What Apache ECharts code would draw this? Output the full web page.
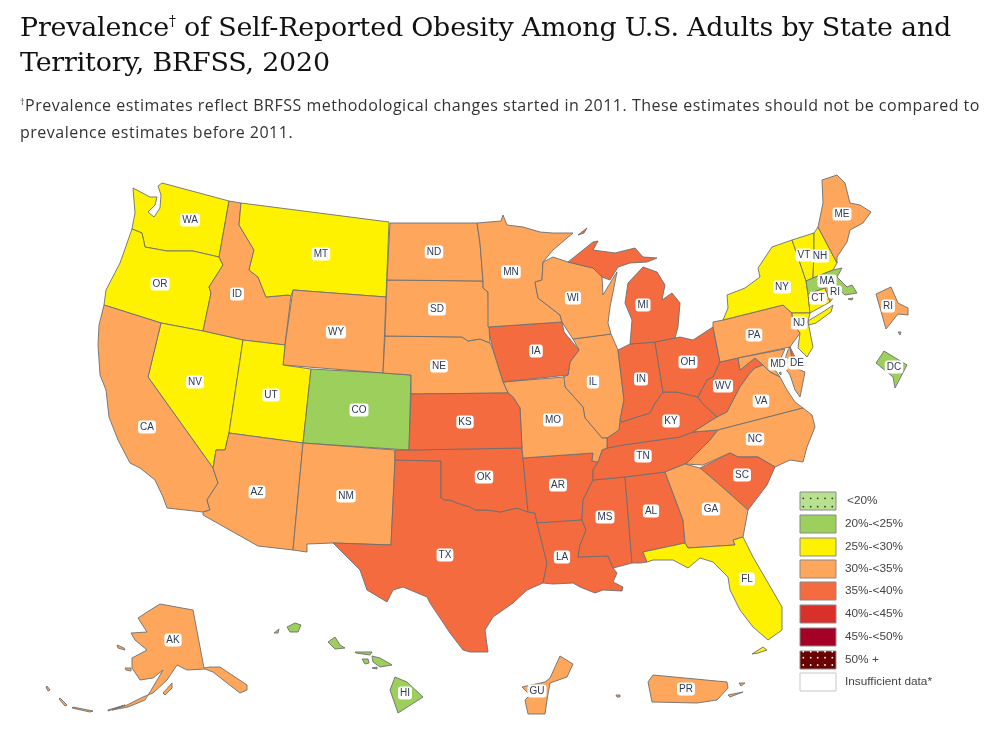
<!DOCTYPE html>
<html>
<head>
<meta charset="utf-8">
<title>Prevalence of Self-Reported Obesity</title>
<script src="https://cdn.jsdelivr.net/npm/echarts@6/dist/echarts.min.js"></script>
<style>
html,body{margin:0;padding:0;background:#fff;width:988px;height:733px;overflow:hidden}
#chart{position:absolute;left:0;top:0;width:988px;height:733px}
h1{position:absolute;left:20px;top:9px;width:960px;margin:0;font:400 26.9px/35px "DejaVu Serif",serif;color:#111;z-index:2;letter-spacing:-.2px}
h1 sup{font-size:14px;line-height:0}
p{position:absolute;left:20px;top:92px;width:968px;margin:0;font:400 16px/27px "Open Sans",sans-serif;color:#333;z-index:2;letter-spacing:.5px}
p sup{font-size:9px;line-height:0}
</style>
</head>
<body>
<h1>Prevalence<sup>†</sup> of Self-Reported Obesity Among U.S. Adults by State and Territory, BRFSS, 2020</h1>
<p><sup>†</sup>Prevalence estimates reflect BRFSS methodological changes started in 2011. These estimates should not be compared to prevalence estimates before 2011.</p>
<div id="chart"></div>
<script>
// 分组
var binNames = ['<20%','20%-<25%','25%-<30%','30%-<35%','35%-<40%','40%-<45%','45%-<50%','50% +','Insufficient data*'];
var binColors = ['#b9e08f','#9ccf5c','#fff200','#fda65c','#f46b3f','#d9302a','#a50026','#6b0000','#ffffff'];

// 各州所在分组
var states2025 = ['CO','DC','HI','MA'];
var states2530 = ['WA','OR','MT','NV','UT','NY','VT','NH','CT','NJ','FL'];
var states3035 = ['ID','WY','CA','AZ','NM','ND','SD','NE','MN','WI','IL','MO','PA','VA','NC','GA','MD','ME','RI','RI2','AK','GU','PR'];
var states3540 = ['KS','OK','TX','IA','AR','LA','MI','IN','OH','KY','TN','MS','AL','SC','WV','DE'];

// 州的轮廓 (picture coordinates)
var shapes = {
  WA:[[[133,188],[150,197],[157,197],[155,205],[148,212],[154,217],[160,208],[161,195],[158,186],[162,183],[229,201],[219,257],[193,251],[167,251],[145,247],[142,233],[132,229],[135,213]]],
  OR:[[[132,229],[142,233],[145,247],[167,251],[193,251],[219,257],[223,265],[209,287],[211,293],[203,331],[161,323],[104,305],[106,290],[120,263]]],
  ID:[[[229,201],[241,203],[239,225],[254,250],[249,270],[258,277],[266,297],[288,295],[291,296],[285,345],[243,340],[203,331],[211,293],[209,287],[223,265],[219,257]]],
  MT:[[[241,203],[389,222],[386,297],[293,290],[291,296],[288,295],[266,297],[258,277],[249,270],[254,250],[239,225]]],
  WY:[[[293,290],[386,297],[383,373],[283,365],[285,345]]],
  NV:[[[161,323],[203,331],[243,340],[229,433],[225,450],[216,450],[213,468],[148,377]]],
  UT:[[[243,340],[285,345],[283,365],[311,369],[303,443],[229,433]]],
  CO:[[[311,369],[383,373],[411,375],[409,450],[303,443]]],
  CA:[[[104,305],[161,323],[148,377],[213,468],[218,483],[207,500],[210,510],[203,512],[167,508],[163,497],[155,480],[140,468],[130,463],[118,440],[109,417],[106,390],[100,375],[98,345],[99,325]]],
  AZ:[[[229,433],[303,443],[293,550],[258,546],[203,515],[203,512],[210,510],[207,500],[218,483],[213,468],[216,450],[225,450]]],
  NM:[[[303,443],[395,450],[395,460],[391,545],[333,543],[307,544],[307,552],[293,550]]],
  TX:[[[395,460],[441,461],[441,498],[445,500],[450,500],[457,503],[470,507],[475,510],[487,510],[500,512],[517,508],[528,512],[535,513],[537,523],[547,563],[543,583],[527,590],[513,603],[493,617],[485,630],[488,652],[470,652],[463,650],[450,633],[430,603],[427,597],[403,587],[393,590],[387,602],[367,590],[360,570],[333,543],[391,545]]],
  OK:[[[395,450],[409,450],[522,448],[523,458],[528,512],[517,508],[500,512],[487,510],[475,510],[470,507],[457,503],[450,500],[445,500],[441,498],[441,461],[395,460]]],
  AR:[[[523,458],[593,453],[592,461],[598,462],[593,470],[593,480],[583,500],[582,520],[537,523],[535,513],[528,512]]],
  LA:[[[537,523],[582,520],[586,530],[580,545],[578,557],[608,556],[613,568],[617,573],[613,582],[623,587],[622,591],[603,590],[595,593],[580,587],[573,583],[553,584],[543,583],[547,563]]],
  MS:[[[593,480],[625,477],[632,563],[617,567],[613,568],[608,556],[578,557],[580,545],[586,530],[582,520],[583,500]]],
  AL:[[[625,477],[665,472],[683,520],[685,543],[643,552],[647,562],[640,563],[632,563]]],
  TN:[[[602,450],[607,448],[623,445],[680,437],[693,432],[718,430],[710,440],[687,463],[665,472],[625,477],[593,480],[593,470],[598,462]]],
  KY:[[[663,392],[677,392],[698,397],[702,403],[717,417],[693,432],[680,437],[623,445],[607,448],[607,438],[619,430],[620,420],[622,422],[637,417],[650,413],[655,403]]],
  IL:[[[573,339],[611,334],[618,350],[624,400],[620,420],[619,430],[607,438],[602,438],[585,418],[583,407],[565,387],[563,377],[568,375],[570,362],[579,350]]],
  IN:[[[618,350],[630,344],[655,342],[663,392],[655,403],[650,413],[637,417],[622,422],[620,420],[624,400]]],
  OH:[[[655,342],[680,337],[693,340],[713,327],[720,362],[713,377],[707,380],[698,397],[677,392],[663,392]]],
  WV:[[[720,362],[738,358],[740,370],[755,358],[763,365],[755,368],[750,373],[740,387],[727,412],[717,417],[702,403],[698,397],[707,380],[713,377]]],
  PA:[[[713,322],[723,320],[783,305],[792,313],[793,323],[800,333],[790,347],[738,358],[720,362],[713,327]]],
  NY:[[[723,320],[728,308],[727,295],[745,288],[760,277],[758,268],[772,247],[792,240],[798,257],[806,281],[808,294],[810,313],[792,313],[783,305]],[[808,321],[826,310],[833,305],[831,312],[816,323],[809,325]]],
  VT:[[[792,240],[814,233],[814,250],[813,278],[806,281],[798,257]]],
  NH:[[[814,233],[818,227],[837,263],[833,270],[813,278],[814,250]]],
  ME:[[[822,180],[837,175],[845,183],[850,203],[860,205],[871,212],[863,223],[850,230],[847,242],[837,257],[837,263],[818,227],[823,203]]],
  MA:[[[806,281],[813,278],[833,270],[842,268],[837,277],[847,287],[852,285],[857,293],[845,295],[837,288],[830,285],[825,288],[808,294]],[[848,299],[853,298],[852,300]]],
  CT:[[[808,294],[825,288],[830,302],[810,313]]],
  RI:[[[825,288],[830,285],[837,293],[833,298],[830,302]]],
  RI2:[[[876,294],[891,287],[898,303],[908,308],[908,315],[898,314],[886,329]],[[898,332],[901,332],[900,335]]],
  DC:[[[884,351],[907,365],[895,388],[893,377],[876,363]],[[779,373],[781,372],[781,375]]],
  NJ:[[[792,313],[810,313],[808,322],[813,347],[807,357],[798,348],[800,333],[793,323]]],
  DE:[[[790,347],[795,357],[800,367],[793,367]]],
  MD:[[[738,358],[785,349],[780,360],[773,367],[780,377],[770,372],[763,365],[755,358],[740,370]],[[788,350],[790,347],[793,367],[805,372],[800,397],[795,390],[790,375],[783,365]]],
  VA:[[[693,432],[717,417],[727,412],[740,387],[750,373],[755,368],[763,365],[770,372],[780,377],[787,390],[795,402],[803,408],[718,430]]],
  NC:[[[718,430],[803,408],[812,415],[815,427],[807,447],[803,462],[790,460],[775,467],[758,457],[738,457],[730,453],[703,465],[685,464],[687,463],[710,440]]],
  SC:[[[700,468],[730,453],[738,457],[758,457],[775,467],[767,485],[748,510],[720,485]]],
  GA:[[[665,472],[685,464],[700,468],[720,485],[748,510],[743,537],[733,540],[735,545],[688,548],[685,543],[683,520]]],
  FL:[[[643,552],[685,543],[688,548],[735,545],[733,540],[743,537],[753,557],[782,607],[782,630],[768,640],[753,627],[740,610],[730,590],[728,577],[713,562],[700,558],[688,568],[673,560],[653,560],[647,562]],[[752,654],[763,647],[767,650],[758,653]]],
  MO:[[[503,382],[564,377],[565,387],[583,407],[585,418],[602,438],[607,438],[607,448],[602,450],[598,462],[592,461],[593,453],[523,458],[522,448],[520,408],[513,397],[508,393]]],
  IA:[[[488,327],[562,322],[564,332],[579,350],[570,362],[568,375],[503,382],[493,350]]],
  NE:[[[385,336],[462,337],[468,341],[480,339],[490,343],[493,350],[503,382],[508,393],[411,394],[411,375],[383,373]]],
  KS:[[[411,394],[508,393],[513,397],[520,408],[522,448],[409,450]]],
  SD:[[[387,280],[483,281],[483,288],[488,292],[489,327],[488,327],[490,343],[480,339],[468,341],[462,337],[385,336]]],
  ND:[[[390,223],[477,223],[480,243],[483,281],[387,280]]],
  MN:[[[477,223],[501,221],[503,215],[507,225],[523,227],[540,232],[553,233],[573,233],[553,250],[543,262],[542,280],[535,282],[538,298],[560,315],[562,322],[488,327],[489,327],[488,292],[483,288],[483,281],[480,243]]],
  WI:[[[543,262],[553,257],[568,262],[593,268],[602,277],[603,295],[615,275],[617,272],[610,307],[608,323],[611,334],[573,339],[567,330],[562,322],[560,315],[538,298],[535,282],[542,280]]],
  MI:[[[568,262],[593,242],[598,241],[593,250],[615,253],[635,248],[643,257],[657,258],[647,262],[630,263],[618,267],[610,280],[602,277],[593,268]],[[675,338],[655,342],[630,344],[632,320],[625,303],[628,283],[643,267],[657,272],[665,285],[662,300],[672,293],[680,303],[678,327]],[[578,235],[587,228],[584,233]]],
  AK:[[[160,604],[193,610],[204,668],[210,667],[220,667],[247,685],[247,690],[240,693],[227,683],[213,672],[205,669],[187,670],[177,665],[167,680],[153,693],[143,697],[127,705],[112,710],[128,707],[145,700],[150,692],[153,687],[163,670],[153,678],[140,680],[132,668],[132,658],[147,650],[135,640],[131,633],[147,632],[138,618],[147,612]],[[117,645],[124,648],[125,650],[118,648]],[[125,668],[131,668],[131,671],[126,670]],[[163,693],[172,683],[172,688],[165,695]],[[73,707],[93,711],[90,712],[72,708]],[[60,698],[67,705],[65,706],[59,699]],[[47,686],[50,690],[48,691],[46,687]],[[108,710],[125,705],[125,706],[108,711]]],
  HI:[[[395,677],[407,682],[423,697],[398,713],[390,690]],[[372,656],[380,658],[392,665],[380,667],[373,662]],[[355,652],[372,652],[370,655],[356,653]],[[362,659],[368,659],[369,663],[365,664]],[[328,642],[335,637],[340,645],[345,648],[335,649]],[[287,627],[295,623],[301,625],[298,632],[290,632]],[[274,633],[279,629],[278,633]],[[372,668],[377,667],[377,669]]],
  GU:[[[560,656],[573,664],[567,677],[550,683],[547,700],[545,714],[528,714],[525,700],[530,695],[522,687],[545,682],[550,678]]],
  PR:[[[653,675],[727,682],[728,688],[717,700],[697,703],[652,702],[648,682]],[[728,695],[743,692],[730,697]],[[739,683],[745,683],[741,686]],[[616,695],[620,695],[620,697],[617,697]]]
};

// 标签位置
var labelPos = {
  WA:[190,220],OR:[160,284],ID:[237,294],MT:[321,254],WY:[336,332],NV:[195,382],UT:[271,395],CO:[359,410],CA:[147,427],AZ:[257,492],NM:[346,496],
  ND:[434,252],SD:[437,309],NE:[439,366],KS:[465,422],OK:[484,477],TX:[445,555],MN:[511,272],IA:[536,351],MO:[553,420],AR:[558,485],LA:[562,557],
  WI:[573,298],IL:[593,382],MI:[643,305],IN:[641,379],KY:[671,421],TN:[643,456],MS:[605,517],AL:[651,511],GA:[711,509],FL:[747,579],SC:[742,475],
  NC:[755,439],VA:[761,401],WV:[723,386],OH:[688,362],PA:[754,335],NY:[782,287],VT:[804,255],NH:[820,256],ME:[842,214],MA:[827,281],RI:[835,292],
  CT:[818,298],NJ:[799,323],MD:[778,364],DE:[797,363],RI2:[888,306],DC:[894,367],AK:[173,640],HI:[405,693],GU:[537,691],PR:[686,689]
};

var features = [];
for (var name in shapes) {
    features.push({
        type: 'Feature',
        properties: {name: name, cp: labelPos[name]},
        geometry: {type: 'MultiPolygon', coordinates: shapes[name].map(function (ring) {
            return [ring.concat([ring[0]])];
        })}
    });
}
echarts.registerMap('usa', {type: 'FeatureCollection', features: features});

function toData(list, binIndex) {
    return list.map(function (s) {
        return {name: s, itemStyle: {areaColor: binColors[binIndex]}};
    });
}
var mapData = [].concat(toData(states2025, 1), toData(states2530, 2), toData(states3035, 3), toData(states3540, 4));

// 图例
var legendTop = [492, 515, 538, 560, 582, 605, 628, 651, 673];
var legendItems = [];
binNames.forEach(function (n, i) {
    legendItems.push({
        type: 'rect', silent: true,
        shape: {x: 800, y: legendTop[i], width: 36, height: 18},
        style: {fill: binColors[i], stroke: i == 8 ? '#c8c8c8' : '#8a8a8a', lineWidth: 1}
    });
    legendItems.push({
        type: 'text', silent: true,
        style: {x: i == 0 ? 847 : 845, y: legendTop[i] + 9, text: n, fill: '#444', font: '11.8px "Liberation Sans", Arial, sans-serif', verticalAlign: 'middle'}
    });
});
[803.3, 810.7, 817.7, 825, 832.3].forEach(function (x) {
    [498.3, 506.7].forEach(function (y) {
        legendItems.push({type: 'circle', silent: true, shape: {cx: x, cy: y, r: 0.9}, style: {fill: '#1d4d1d'}});
    });
    [651.7, 657.7, 665].forEach(function (y) {
        legendItems.push({type: 'circle', silent: true, shape: {cx: x, cy: y, r: 0.9}, style: {fill: '#fff'}});
    });
});

var myChart = echarts.init(document.getElementById('chart'));
myChart.setOption({
    animation: false,
    series: [{
        type: 'map',
        map: 'usa',
        silent: true,
        selectedMode: false,
        left: 0, top: 0, right: 0, bottom: 0,
        boundingCoords: [[0, 0], [988, 733]],
        projection: {
            project: function (p) { return p; },
            unproject: function (p) { return p; }
        },
        itemStyle: {borderColor: '#6e6e6e', borderWidth: 0.9},
        label: {
            show: true,
            formatter: function (p) { return p.name.slice(0, 2); },
            color: '#2f3b52',
            fontSize: 10,
            fontFamily: '"Liberation Sans", Arial, sans-serif',
            backgroundColor: '#fff',
            borderRadius: 3,
            padding: [2, 2, 1, 2]
        },
        labelLayout: {hideOverlap: false},
        data: mapData
    }],
    graphic: {elements: legendItems}
});
</script>
</body>
</html>
